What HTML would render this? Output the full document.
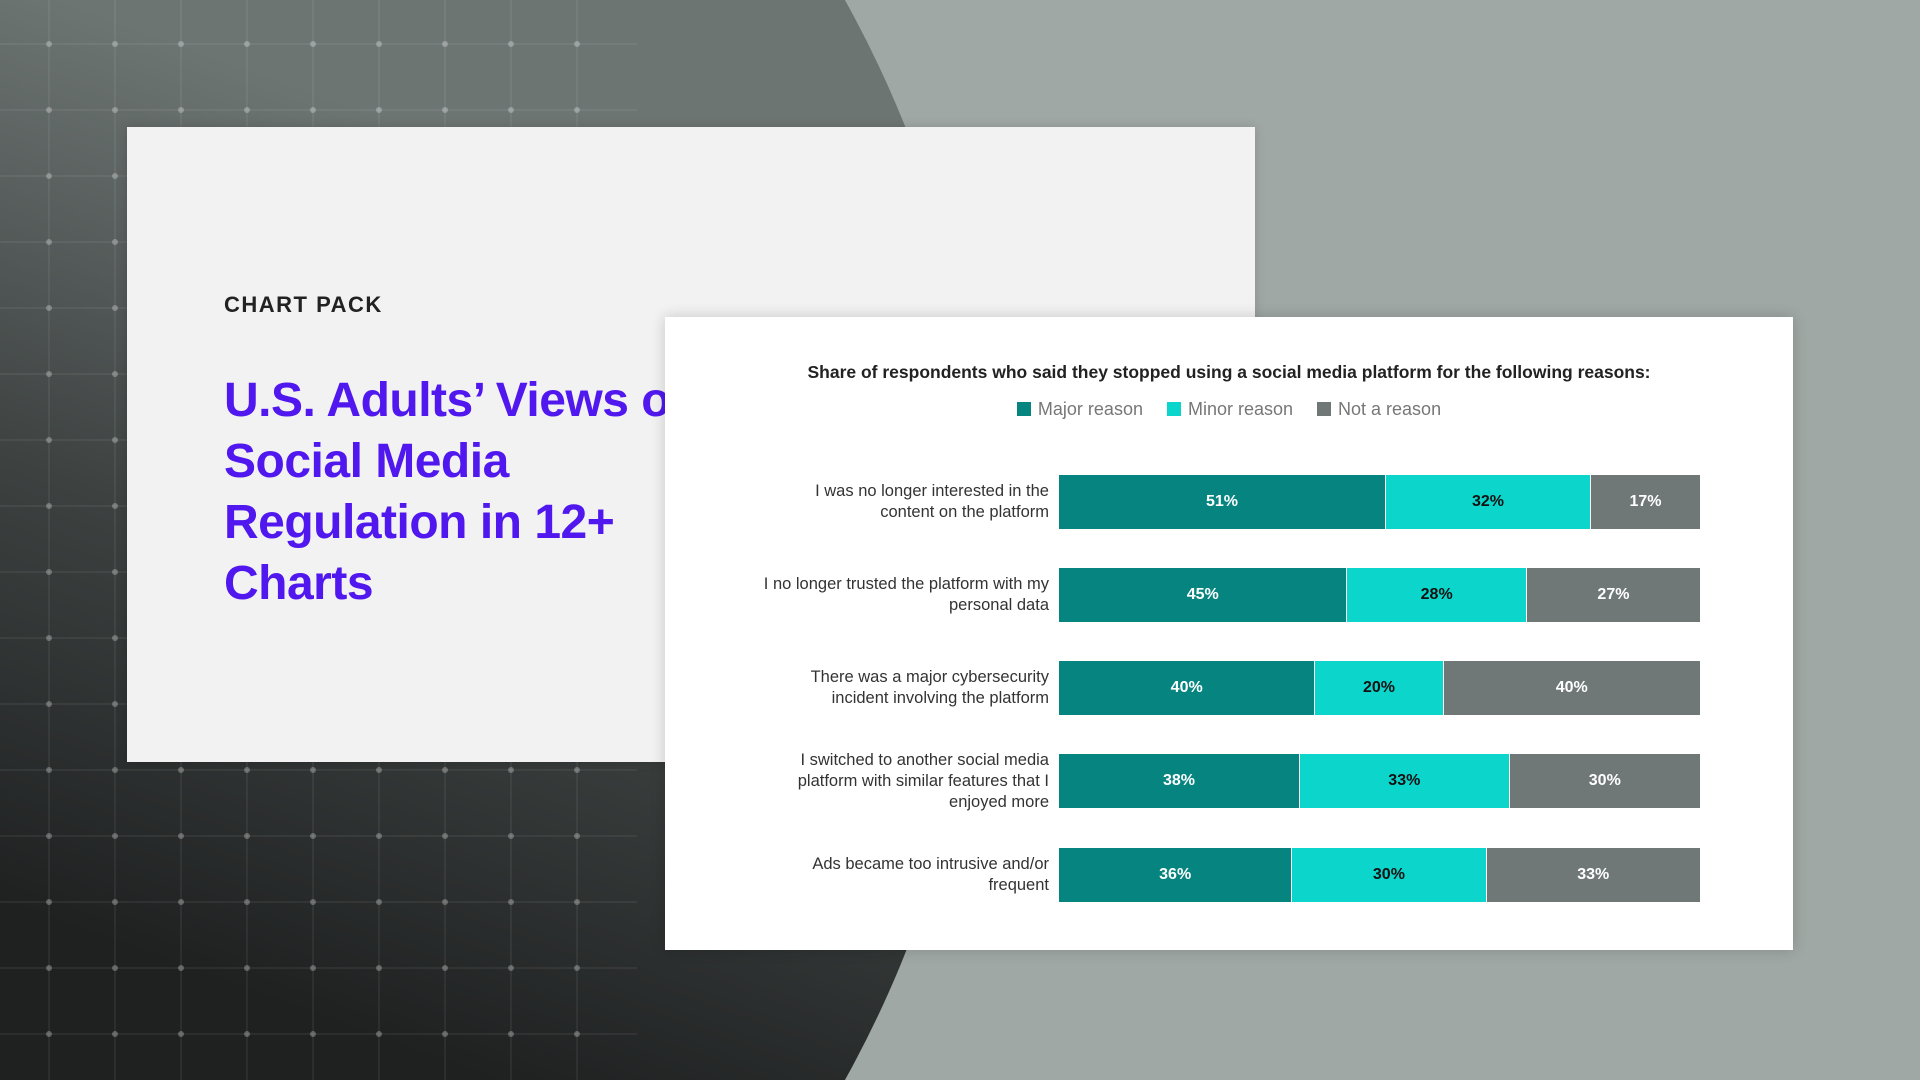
<!DOCTYPE html>
<html><head><meta charset="utf-8"><style>
*{margin:0;padding:0;box-sizing:border-box}
html,body{width:1920px;height:1080px;overflow:hidden}
body{font-family:"Liberation Sans",sans-serif}
#wrap{position:relative;width:1920px;height:1080px;overflow:hidden;background:#a0a8a5}
.circle{position:absolute;left:0;top:0;width:1920px;height:1080px;clip-path:circle(1111px at -126px 540px);background:linear-gradient(20deg,#1f2121 10%,#3d4241 35%,#6d7573 62%)}
svg.grid{position:absolute;left:0;top:0}
.card1{position:absolute;left:127px;top:127px;width:1128px;height:635px;background:#f2f2f2;box-shadow:0 0 10px rgba(0,0,0,.15)}
.cp{position:absolute;left:97px;top:165px;font-size:22px;font-weight:bold;letter-spacing:1.5px;color:#222}
.tt{position:absolute;left:97px;top:243px;font-size:48px;line-height:61px;font-weight:bold;color:#5018ee;letter-spacing:-0.5px;white-space:nowrap}
.card2{position:absolute;left:665px;top:317px;width:1128px;height:633px;background:#fff;box-shadow:0 0 14px rgba(0,0,0,.18)}
.ct{position:absolute;left:0;width:100%;top:45px;text-align:center;font-size:17.5px;font-weight:bold;color:#222}
.lg{position:absolute;left:0;width:100%;top:82px;text-align:center;font-size:18px;color:#777}
.lg span{display:inline-block;margin:0 12px}
.lg i{display:inline-block;width:14px;height:14px;margin-right:7px;vertical-align:-1px}
.row{position:absolute;left:394px;width:641px;height:54px;display:flex}
.row div{height:100%;display:flex;align-items:center;justify-content:center;font-weight:bold;font-size:16px;color:#fff;border-right:1.5px solid #fff}
.row div:last-child{border-right:none}
.a{background:#068580}.b{background:#0cd6cc;color:#111!important}.c{background:#6f7777}
.lab{position:absolute;left:34px;width:350px;height:80px;display:flex;align-items:center;justify-content:flex-end;text-align:right;font-size:16.5px;line-height:21px;color:#333}
</style></head><body><div id="wrap">
<div class="circle"></div>
<svg class="grid" width="640" height="1080">
<g stroke="rgba(255,255,255,0.08)" stroke-width="1.5">
<line x1="49" y1="0" x2="49" y2="1080"/><line x1="115" y1="0" x2="115" y2="1080"/><line x1="181" y1="0" x2="181" y2="1080"/><line x1="247" y1="0" x2="247" y2="1080"/><line x1="313" y1="0" x2="313" y2="1080"/><line x1="379" y1="0" x2="379" y2="1080"/><line x1="445" y1="0" x2="445" y2="1080"/><line x1="511" y1="0" x2="511" y2="1080"/><line x1="577" y1="0" x2="577" y2="1080"/>
<line x1="0" y1="44" x2="637" y2="44"/><line x1="0" y1="110" x2="637" y2="110"/><line x1="0" y1="176" x2="637" y2="176"/><line x1="0" y1="242" x2="637" y2="242"/><line x1="0" y1="308" x2="637" y2="308"/><line x1="0" y1="374" x2="637" y2="374"/><line x1="0" y1="440" x2="637" y2="440"/><line x1="0" y1="506" x2="637" y2="506"/><line x1="0" y1="572" x2="637" y2="572"/><line x1="0" y1="638" x2="637" y2="638"/><line x1="0" y1="704" x2="637" y2="704"/><line x1="0" y1="770" x2="637" y2="770"/><line x1="0" y1="836" x2="637" y2="836"/><line x1="0" y1="902" x2="637" y2="902"/><line x1="0" y1="968" x2="637" y2="968"/><line x1="0" y1="1034" x2="637" y2="1034"/>
</g>
<g fill="rgba(255,255,255,0.28)" id="dots"></g>
</svg>
<script>
var g=document.getElementById('dots'),s='';
for(var x=49;x<640;x+=66)for(var y=44;y<1080;y+=66)s+='<circle cx="'+x+'" cy="'+y+'" r="3"/>';
g.innerHTML=s;
</script>
<div class="card1">
<div class="cp">CHART PACK</div>
<div class="tt">U.S. Adults’ Views on<br>Social Media<br>Regulation in 12+<br>Charts</div>
</div>
<div class="card2">
<div class="ct">Share of respondents who said they stopped using a social media platform for the following reasons:</div>
<div class="lg"><span><i style="background:#068580"></i>Major reason</span><span><i style="background:#0cd6cc"></i>Minor reason</span><span><i style="background:#6f7777"></i>Not a reason</span></div>

<div class="lab" style="top:145px">I was no longer interested in the<br>content on the platform</div>
<div class="row" style="top:158px"><div class="a" style="width:51%">51%</div><div class="b" style="width:32%">32%</div><div class="c" style="width:17%">17%</div></div>

<div class="lab" style="top:238px">I no longer trusted the platform with my<br>personal data</div>
<div class="row" style="top:251px"><div class="a" style="width:45%">45%</div><div class="b" style="width:28%">28%</div><div class="c" style="width:27%">27%</div></div>

<div class="lab" style="top:331px">There was a major cybersecurity<br>incident involving the platform</div>
<div class="row" style="top:344px"><div class="a" style="width:40%">40%</div><div class="b" style="width:20%">20%</div><div class="c" style="width:40%">40%</div></div>

<div class="lab" style="top:424px">I switched to another social media<br>platform with similar features that I<br>enjoyed more</div>
<div class="row" style="top:437px"><div class="a" style="width:37.6%">38%</div><div class="b" style="width:32.7%">33%</div><div class="c" style="width:29.7%">30%</div></div>

<div class="lab" style="top:518px">Ads became too intrusive and/or<br>frequent</div>
<div class="row" style="top:531px"><div class="a" style="width:36.4%">36%</div><div class="b" style="width:30.3%">30%</div><div class="c" style="width:33.3%">33%</div></div>
</div>
</div></body></html>
